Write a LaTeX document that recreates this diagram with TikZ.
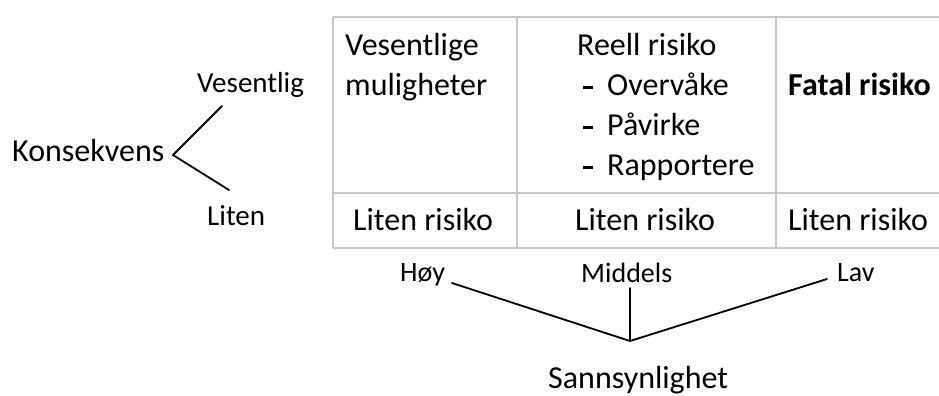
\documentclass[tikz,border=0pt]{standalone}
\usepackage{fontspec}
\setmainfont{Carlito}
\newcommand{\listdash}{\makebox[24bp][l]{\rule[6.5bp]{10bp}{2.4bp}}}
\begin{document}
\begin{tikzpicture}[x=1bp,y=-1bp,
  grid/.style={draw=black!22, line width=2.5bp},
  link/.style={draw=black, line width=1.8bp, line cap=round},
  big/.style={font=\fontsize{32bp}{39bp}\selectfont, inner sep=0pt, anchor=base west},
  mid/.style={font=\fontsize{29bp}{35bp}\selectfont, inner sep=0pt, anchor=base west},
  lab/.style={font=\fontsize{28bp}{33bp}\selectfont, inner sep=0pt, anchor=base west}]
\useasboundingbox (0,0) rectangle (939,395);
\clip (0,0) rectangle (939,395);

% risk matrix grid (right border lies just outside the page)
\draw[grid] (333,17) -- (950,17);
\draw[grid] (333,193) -- (950,193);
\draw[grid] (333,248) -- (950,248);
\draw[grid] (333,17) -- (333,248);
\draw[grid] (517,17) -- (517,248);
\draw[grid] (776,17) -- (776,248);

% top row
\node[big] (vm1) at (345,55) {Vesentlige};
\node[big] (vm2) at (345,95) {muligheter};
\node[big] (rr)  at (577,55) {Reell risiko};
\node[big] (rr1) at (583,95) {\listdash Overvåke};
\node[big] (rr2) at (583,135) {\listdash Påvirke};
\node[big] (rr3) at (583,175) {\listdash Rapportere};
\node[big] (fr)  at (788,95) {\bfseries Fatal risiko};

% bottom row
\node[big] (lr1) at (353,230) {Liten risiko};
\node[big] (lr2) at (575,230) {Liten risiko};
\node[big] (lr3) at (788,230) {Liten risiko};

% consequence axis
\node[big] (kons) at (12,161) {Konsekvens};
\node[mid] (ves)  at (197,92) {Vesentlig};
\node[mid] (lit)  at (207,225) {Liten};
\coordinate (kv) at (173,155);
\coordinate (kup) at (222,106);
\coordinate (klo) at (229,190);
\draw[link] (kup) -- (kv) -- (klo);

% probability axis
\node[lab] (hoy) at (400,281) {Høy};
\node[lab] (midl) at (581,282) {Middels};
\node[lab] (lav) at (837,281) {Lav};
\node[big] (sann) at (548,388) {Sannsynlighet};
\coordinate (sv) at (630,341);
\coordinate (shoy) at (452,283);
\coordinate (smid) at (630,288);
\coordinate (slav) at (827,279);
\draw[link] (shoy) -- (sv) -- (slav);
\draw[link] (smid) -- (sv);
\end{tikzpicture}
\end{document}
